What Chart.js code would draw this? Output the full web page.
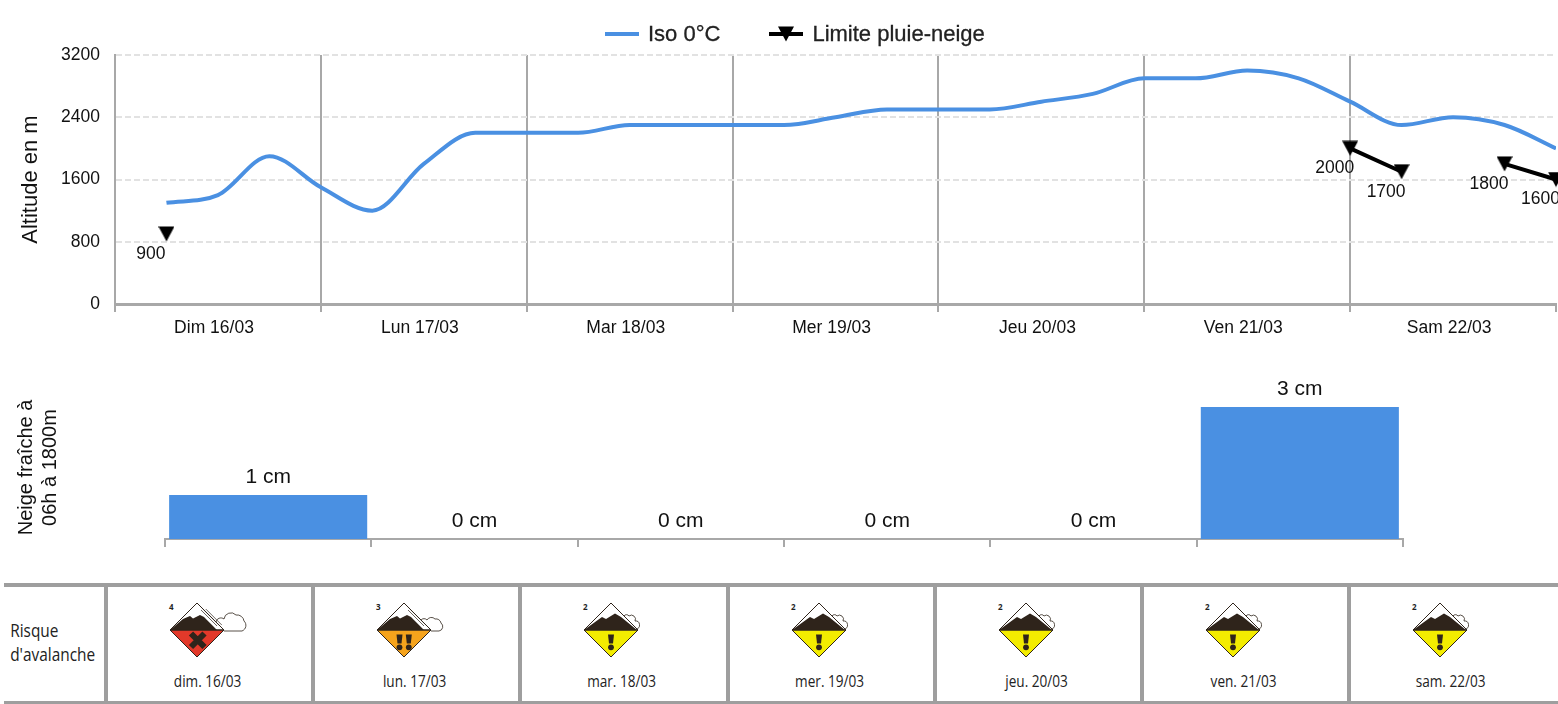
<!DOCTYPE html>
<html lang="fr">
<head>
<meta charset="utf-8">
<title>Iso 0 et neige</title>
<script src="https://cdn.jsdelivr.net/npm/chart.js@4"></script>
<style>
  html, body { margin: 0; padding: 0; background: #fff; }
  body { width: 1558px; height: 704px; position: relative; overflow: hidden; }
  #altitude { position: absolute; left: 0; top: 0; }
  #neige { position: absolute; left: 0; top: 350px; }
  #legende { position: absolute; left: 605px; top: 21px; height: 26px; display: flex; align-items: center;
    font: 22px "Liberation Sans", Arial, sans-serif; color: #222; -webkit-text-stroke: .3px #222; white-space: nowrap; }
  #legende canvas { margin-right: 9px; }
  #legende span { margin-right: 49px; }
  #risque { position: absolute; left: 4px; top: 583px; width: 1554px; height: 121px;
    border-top: 4px solid #9e9e9e; border-bottom: 3px solid #9e9e9e; box-sizing: border-box;
    display: flex; font-family: "Open Sans", sans-serif; color: #222; }
  #risque .titre { width: 100px; box-sizing: border-box; padding: 31px 0 0 7px; font-size: 17.5px; line-height: 24px;
    transform: scaleX(.88); transform-origin: left top; white-space: nowrap; }
  #risque .jour { width: 207.2px; box-sizing: border-box; border-left: 4px solid #9e9e9e; position: relative; }
  #risque svg { position: absolute; left: 56px; top: 14px; }
  #risque .date { position: absolute; left: 0; right: 4px; top: 83px; text-align: center; font-size: 16px;
    transform: scaleX(.85); }
</style>
</head>
<body>
<canvas id="altitude"></canvas>
<canvas id="neige"></canvas>
<div id="legende"></div>
<div id="risque"></div>

<script>
// heures depuis dim. 00h, un point toutes les 6h
const heures = [6, 12, 18, 24, 30, 36, 42, 48, 54, 60, 66, 72, 78, 84, 90, 96, 102, 108, 114, 120, 126, 132, 138, 144, 150, 156, 162, 168];
const iso0 = [1300, 1400, 1900, 1500, 1200, 1800, 2200, 2200, 2200, 2300, 2300, 2300, 2300, 2400, 2500, 2500, 2500, 2600, 2700, 2900, 2900, 3000, 2900, 2600, 2300, 2400, 2300, 2000];
const limitePluieNeige = [900, null, null, null, null, null, null, null, null, null, null, null, null, null, null, null, null, null, null, null, null, null, null, 2000, 1700, null, 1800, 1600];
const joursAltitude = ['Dim 16/03', 'Lun 17/03', 'Mar 18/03', 'Mer 19/03', 'Jeu 20/03', 'Ven 21/03', 'Sam 22/03'];
const ticksAltitude = [0, 800, 1600, 2400, 3200];

const joursNeige = ['Dim 16/03', 'Lun 17/03', 'Mar 18/03', 'Mer 19/03', 'Jeu 20/03', 'Ven 21/03'];
const neigeFraiche = [1, 0, 0, 0, 0, 3];

const joursRisque = ['dim. 16/03', 'lun. 17/03', 'mar. 18/03', 'mer. 19/03', 'jeu. 20/03', 'ven. 21/03', 'sam. 22/03'];
const risque = [4, 3, 2, 2, 2, 2, 2];

const police = '"Liberation Sans", Arial, sans-serif';
const bleu = '#4a90e2';
const gris = '#a8a8a8';

// triangle vers le bas, centré sur la valeur
function triangle(ctx, cx, cy) {
  ctx.fillStyle = '#000';
  ctx.beginPath();
  ctx.moveTo(cx - 8, cy - 7.5);
  ctx.lineTo(cx + 8, cy - 7.5);
  ctx.lineTo(cx, cy + 7.5);
  ctx.closePath();
  ctx.fill();
}

function marqueur() {
  const c = document.createElement('canvas');
  c.width = 16; c.height = 16;
  triangle(c.getContext('2d'), 8, 8);
  return c;
}

function iconeLegende(couleur, avecTriangle) {
  const c = document.createElement('canvas');
  c.width = 34; c.height = 16;
  const ctx = c.getContext('2d');
  ctx.fillStyle = couleur;
  ctx.fillRect(0, 6, 34, 4);
  if (avecTriangle) triangle(ctx, 17, 8);
  return c;
}

const etiquettes = {
  id: 'etiquettes',
  afterDatasetsDraw(chart, args, opts) {
    const ctx = chart.ctx;
    const meta = chart.getDatasetMeta(opts.dataset);
    ctx.save();
    ctx.font = opts.font;
    ctx.fillStyle = opts.color;
    ctx.textAlign = 'center';
    ctx.textBaseline = 'middle';
    meta.data.forEach((el, i) => {
      const v = meta.controller.getParsed(i).y;
      if (!Number.isFinite(v)) return;
      ctx.fillText(v + opts.suffixe, el.x + opts.dx, el.y + opts.dy);
    });
    ctx.restore();
  }
};

// un peu plus large que la page : le dernier marqueur est coupé au bord
const elAlt = document.getElementById('altitude');
elAlt.width = 1564; elAlt.height = 345;
const graphAltitude = new Chart(elAlt, {
  type: 'line',
  data: {
    datasets: [
      {
        label: 'Iso 0°C',
        data: heures.map((h, i) => ({ x: h, y: iso0[i] })),
        borderColor: bleu,
        borderWidth: 4,
        pointRadius: 0,
        cubicInterpolationMode: 'monotone'
      },
      {
        label: 'Limite pluie-neige',
        data: heures.map((h, i) => ({ x: h, y: limitePluieNeige[i] })),
        borderColor: '#000',
        borderWidth: 4,
        pointStyle: marqueur(),
        clip: false
      }
    ]
  },
  options: {
    responsive: false,
    animation: false,
    devicePixelRatio: 1,
    layout: { padding: { top: 55, right: 2, bottom: 0 } },
    scales: {
      x: {
        type: 'linear',
        min: 0,
        max: 168,
        grid: {
          color: ctx => ctx.tick && ctx.tick.value === 168 ? 'rgba(0,0,0,0)' : gris,
          tickColor: gris,
          lineWidth: 2,
          tickLength: 8
        },
        border: { color: gris, width: 3 },
        afterBuildTicks: axis => { axis.ticks = joursAltitude.concat('').map((j, i) => ({ value: i * 24 })); },
        ticks: {
          autoSkip: false,
          maxRotation: 0,
          labelOffset: 99,
          padding: 6,
          color: '#111',
          font: { family: police, size: 17.5 },
          callback: v => joursAltitude[v / 24] || ''
        }
      },
      y: {
        min: 0,
        max: 3200,
        afterBuildTicks: axis => { axis.ticks = ticksAltitude.map(v => ({ value: v })); },
        afterFit: axis => { axis.width = 115; },
        grid: { color: '#e2e2e2', lineWidth: 2, tickLength: 0 },
        border: { color: gris, width: 2, dash: [6, 3] },
        ticks: { padding: 15, color: '#111', font: { family: police, size: 17.5 }, callback: v => String(v) },
        title: {
          display: true,
          text: 'Altitude en m',
          color: '#111',
          font: { family: police, size: 22 },
          padding: { top: 18, bottom: 0 }
        }
      }
    },
    plugins: {
      legend: { display: false },
      tooltip: { enabled: false },
      etiquettes: {
        dataset: 1,
        dx: -15.5,
        dy: 20,
        color: '#111',
        font: '17.5px ' + police,
        suffixe: ''
      }
    }
  },
  plugins: [etiquettes]
});

// légende en html
const legende = document.getElementById('legende');
graphAltitude.data.datasets.forEach((d, i) => {
  legende.appendChild(iconeLegende(i ? '#000' : bleu, i === 1));
  const s = document.createElement('span');
  s.textContent = d.label;
  legende.appendChild(s);
});

const elNeige = document.getElementById('neige');
elNeige.width = 1558; elNeige.height = 197;
new Chart(elNeige, {
  type: 'bar',
  data: {
    labels: joursNeige,
    datasets: [{
      label: 'Neige fraîche',
      data: neigeFraiche,
      backgroundColor: bleu,
      barPercentage: 1,
      categoryPercentage: 0.96
    }]
  },
  options: {
    responsive: false,
    animation: false,
    devicePixelRatio: 1,
    layout: { padding: { right: 155, left: 0, bottom: 0, top: 46 } },
    scales: {
      x: {
        grid: { color: gris, lineWidth: 2, drawOnChartArea: false, tickLength: 8 },
        border: { color: gris, width: 2 },
        ticks: { display: false }
      },
      y: {
        min: 0,
        max: 3.25,
        afterFit: axis => { axis.width = 165; },
        grid: { display: false },
        border: { display: false },
        ticks: { display: false },
        title: {
          display: true,
          text: ['Neige fraîche à', '06h à 1800m'],
          color: '#111',
          font: { family: police, size: 20 },
          padding: { top: 14, bottom: 0 }
        }
      }
    },
    plugins: {
      legend: { display: false },
      tooltip: { enabled: false },
      etiquettes: {
        dataset: 0,
        dx: 0,
        dy: -18,
        color: '#111',
        font: '21px ' + police,
        suffixe: ' cm'
      }
    }
  },
  plugins: [etiquettes]
});

// pictos du risque d'avalanche
const couleursRisque = { 2: '#f3ec00', 3: '#f5a31c', 4: '#e2392a' };
const nuages = {
  2: 'M40 14 A3 3 0 0 1 45 14 A4 4 0 0 1 51 19 A4 4 0 0 1 52 27 L40 27 Z',
  3: 'M44 18 A4 4 0 0 1 50 18 A5 5 0 0 1 58 17 A5 5 0 0 1 64 21 A4.5 4.5 0 0 1 62 29 H54 Z',
  4: 'M46 20 A5 5 0 0 1 54 17 A7 7 0 0 1 66 13 A7 7 0 0 1 74 19 A6 6 0 0 1 72 29 H54 Z'
};
const dark = '#2f241b';
function pictoRisque(niveau) {
  const couleur = couleursRisque[niveau];
  let signe = '';
  if (niveau === 4) {
    signe = `<path d="M21 31.5 L34.5 45 M34.5 31.5 L21 45" stroke="${dark}" stroke-width="6"/>`;
  } else {
    const xs = niveau === 3 ? [22.5, 31.8] : [27];
    signe = xs.map(x => `<path d="M${x - 3} 32.5 H${x + 3} L${x + 2} 41.5 H${x - 2} Z" fill="${dark}"/><circle cx="${x}" cy="45.3" r="2.9" fill="${dark}"/>`).join('');
  }
  const rayures = niveau === 2 ? '' : (niveau === 4 ? [0, 2.4, 4.8] : [0, 2.4]).map(d =>
    `<path d="M${31 + d} ${8 - d * 0.2} L${47 + d} ${24 - d * 0.2}" stroke="${dark}" stroke-width=".7"/>`).join('');
  const montagne = niveau === 2
    ? 'M0 28 L18 15 L22 17 L31 11.5 L37 15 L53 28 Z'
    : 'M0 28 L13 17 L20 14 L23 16.5 L30 13 L34 15 L47 28 Z';
  return `<svg width="90" height="58" viewBox="-6 -1 90 58">
    <path d="${nuages[niveau]}" fill="#fff" stroke="${dark}" stroke-width=".8"/>
    <path d="M27 1 L54 28 H0 Z" fill="#fff"/>
    ${rayures}
    <path d="${montagne}" fill="${dark}"/>
    <path d="M0 28 H54 L27 55 Z" fill="${couleur}"/>
    <path d="M27 1 L54 28 L27 55 L0 28 Z" fill="none" stroke="${dark}" stroke-width="1"/>
    <path d="M0 28 H54" stroke="${dark}" stroke-width="1.4"/>
    ${signe}
    <text x="-1" y="8" font-size="8" font-family="Open Sans" font-weight="700" fill="#222">${niveau}</text>
  </svg>`;
}

const zone = document.getElementById('risque');
zone.innerHTML = `<div class="titre">Risque<br>d'avalanche</div>` + joursRisque.map((j, i) =>
  `<div class="jour">${pictoRisque(risque[i])}<div class="date">${j}</div></div>`).join('');
</script>
</body>
</html>
